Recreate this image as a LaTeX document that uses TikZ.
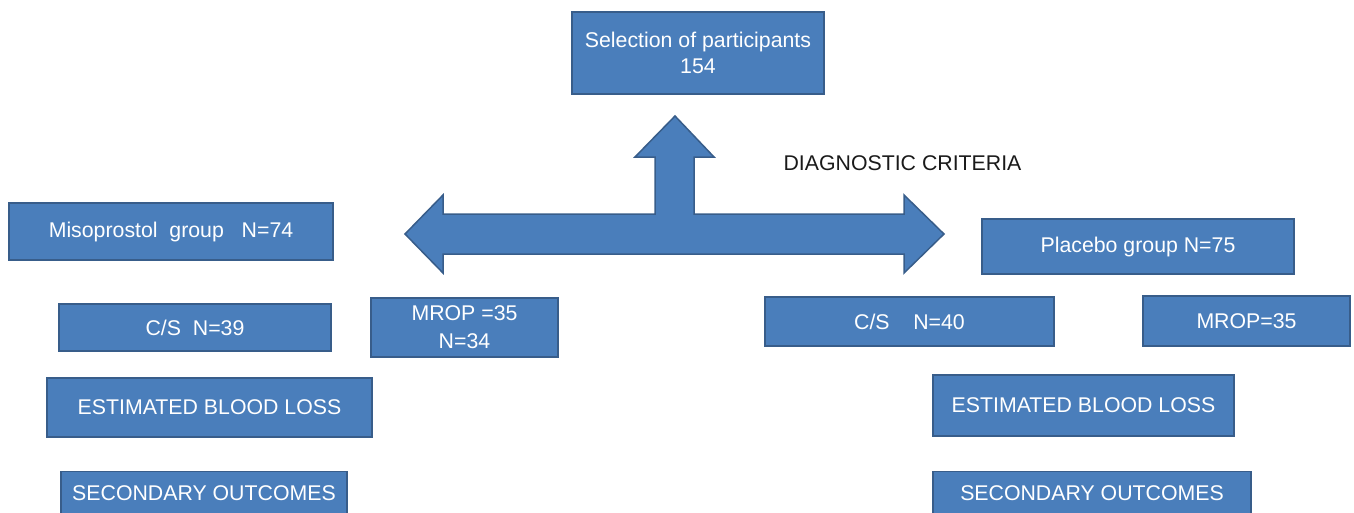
\documentclass[tikz,border=0pt]{standalone}
\usepackage{fontspec}
\setmainfont{Liberation Sans}
\definecolor{boxfill}{RGB}{74,126,187}
\definecolor{boxline}{RGB}{56,93,138}
\definecolor{labeltext}{RGB}{26,26,26}
\begin{document}
\begin{tikzpicture}[x=1pt,y=-1pt,
  box/.style={draw=boxline, fill=boxfill, line width=1.5pt, text=white,
    font=\fontsize{21.3}{26}\selectfont, inner sep=0pt, align=center},
  bigarrow/.style={draw=boxline, fill=boxfill, line width=1.5pt, line join=miter}]
\useasboundingbox (0,0) rectangle (1354,512);
% three-way block arrow
\draw[bigarrow] (675,116) -- (714,157) -- (694,157) -- (694,214) -- (904,214) -- (904,195)
  -- (944,234) -- (904,273) -- (904,254) -- (443,254) -- (443,273) -- (405,234)
  -- (443,195) -- (443,214) -- (655,214) -- (655,157) -- (635,157) -- cycle;
\node[box, minimum width=252pt, minimum height=82pt] (sel) at (698,53) {Selection of participants\\154};
\node[text=labeltext, font=\fontsize{21.3}{26}\selectfont] (diag) at (902.5,163) {DIAGNOSTIC CRITERIA};
\node[box, minimum width=324pt, minimum height=57pt] (miso) at (171,231.5) {Misoprostol\ \ group\ \ \ N=74};
\node[box, minimum width=312pt, minimum height=55pt] (plac) at (1138,246.5) {Placebo group N=75};
\node[box, minimum width=272pt, minimum height=47pt] (cs1) at (195,327.5) {C/S\ \ N=39};
\node[box, minimum width=187pt, minimum height=59pt, font=\fontsize{21.3}{28}\selectfont] (mrop1) at (464.5,327.5) {MROP =35\\N=34};
\node[box, minimum width=289pt, minimum height=49pt] (cs2) at (909.5,321.5) {C/S\ \ \ \ N=40};
\node[box, minimum width=207pt, minimum height=50pt] (mrop2) at (1246.5,321) {MROP=35};
\node[box, minimum width=325pt, minimum height=59pt] (ebl1) at (209.5,407.5) {ESTIMATED BLOOD LOSS};
\node[box, minimum width=301pt, minimum height=61pt] (ebl2) at (1083.5,405.5) {ESTIMATED BLOOD LOSS};
\node[box, minimum width=286pt, text height=22pt, text depth=40pt, inner ysep=7.6pt, anchor=north] (sec1) at (204,470.5) {SECONDARY OUTCOMES};
\node[box, minimum width=318pt, text height=22pt, text depth=40pt, inner ysep=7.6pt, anchor=north] (sec2) at (1092,470.5) {SECONDARY OUTCOMES};
\end{tikzpicture}
\end{document}
